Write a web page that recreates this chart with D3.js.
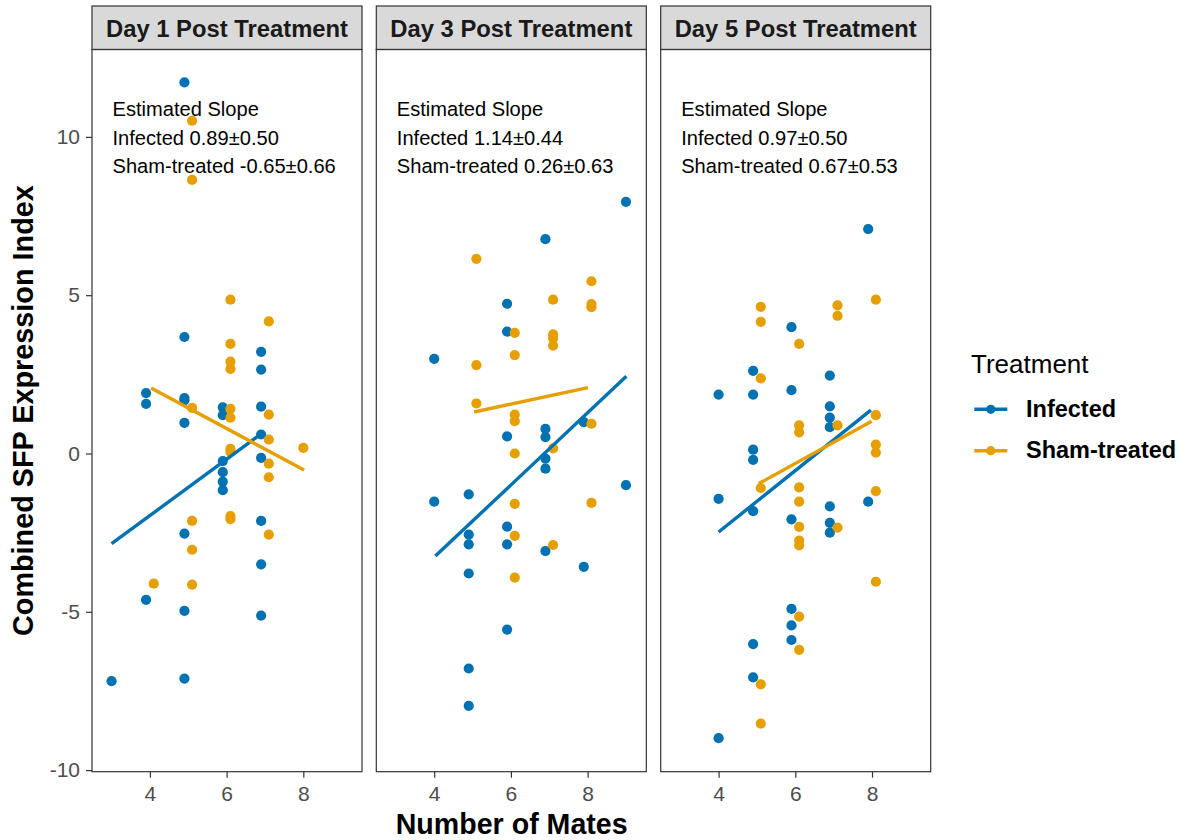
<!DOCTYPE html>
<html>
<head>
<meta charset="utf-8">
<script src="https://cdn.jsdelivr.net/npm/d3@7"></script>
<style>
  html, body { margin: 0; padding: 0; background: #ffffff; }
  svg { display: block; font-family: "Liberation Sans", Arial, sans-serif; }
</style>
</head>
<body>
<svg id="chart" width="1181" height="840"></svg>
<script>
// Facet titles
const panelTitles = ["Day 1 Post Treatment", "Day 3 Post Treatment", "Day 5 Post Treatment"];
const treatments = ["Infected", "Sham-treated"];
const treatmentColors = ["#0072B2", "#E69F00"];

// Observations: [number of mates (dodged), combined SFP expression index]
const day1Infected = [[3.0,-7.19],[3.9,1.91],[3.9,1.57],[3.9,-4.62],[4.9,11.72],[4.9,3.68],[4.9,1.75],[4.9,1.68],[4.9,0.97],[4.9,-2.53],[4.9,-4.97],[4.9,-7.11],[5.9,1.46],[5.9,1.21],[5.9,-0.24],[5.9,-0.59],[5.9,-0.89],[5.9,-1.16],[6.9,3.21],[6.9,2.65],[6.9,1.48],[6.9,0.60],[6.9,-0.14],[6.9,-2.13],[6.9,-3.50],[6.9,-5.12]];
const day1Sham = [[4.1,-4.11],[5.1,10.51],[5.1,8.64],[5.1,1.44],[5.1,-2.13],[5.1,-3.04],[5.1,-4.14],[6.1,4.86],[6.1,3.46],[6.1,2.90],[6.1,2.67],[6.1,1.41],[6.1,1.13],[6.1,0.15],[6.1,0.05],[6.1,-1.98],[6.1,-2.07],[7.1,4.17],[7.1,1.23],[7.1,0.44],[7.1,-0.32],[7.1,-0.75],[7.1,-2.56],[8.0,0.18]];
const day3Infected = [[4.0,2.99],[4.0,-1.52],[4.9,-1.29],[4.9,-2.56],[4.9,-2.87],[4.9,-3.79],[4.9,-6.79],[4.9,-7.97],[5.9,4.73],[5.9,3.85],[5.9,0.54],[5.9,-2.31],[5.9,-2.87],[5.9,-5.56],[6.9,6.77],[6.9,0.78],[6.9,0.52],[6.9,-0.16],[6.9,-0.48],[6.9,-3.08],[7.9,0.99],[7.9,-3.58],[9.0,7.95],[9.0,-1.0]];
const day3Sham = [[5.1,6.15],[5.1,2.79],[5.1,1.58],[6.1,3.81],[6.1,3.11],[6.1,1.23],[6.1,1.02],[6.1,0.0],[6.1,-1.59],[6.1,-2.60],[6.1,-3.92],[7.1,4.86],[7.1,3.76],[7.1,3.64],[7.1,3.41],[7.1,0.16],[7.1,-2.89],[8.1,5.44],[8.1,4.72],[8.1,4.62],[8.1,0.94],[8.1,-1.56]];
const day5Infected = [[4.0,1.86],[4.0,-1.43],[4.0,-8.99],[4.9,2.61],[4.9,1.86],[4.9,0.12],[4.9,-0.20],[4.9,-1.82],[4.9,-6.02],[4.9,-7.07],[5.9,3.99],[5.9,2.0],[5.9,-2.08],[5.9,-4.91],[5.9,-5.43],[5.9,-5.89],[6.9,2.46],[6.9,1.49],[6.9,1.13],[6.9,0.83],[6.9,-1.67],[6.9,-2.19],[6.9,-2.50],[7.9,7.09],[7.9,-1.52]];
const day5Sham = [[5.1,4.63],[5.1,4.16],[5.1,2.37],[5.1,-1.09],[5.1,-7.29],[5.1,-8.53],[6.1,3.46],[6.1,0.89],[6.1,0.67],[6.1,-1.07],[6.1,-1.52],[6.1,-2.32],[6.1,-2.75],[6.1,-2.90],[6.1,-5.15],[6.1,-6.20],[7.1,4.68],[7.1,4.35],[7.1,0.89],[7.1,-2.34],[8.1,4.86],[8.1,1.21],[8.1,0.28],[8.1,0.03],[8.1,-1.19],[8.1,-4.05]];

// Estimated slopes and standard errors per day
const infectedSlope = [0.89, 1.14, 0.97];
const infectedSE = [0.50, 0.44, 0.50];
const shamSlope = [-0.65, 0.26, 0.67];
const shamSE = [0.66, 0.63, 0.53];

// Fitted line: starting point [x, y] and ending x, per day
const infectedFitStart = [[3.0, -2.85], [4.03, -3.24], [4.0, -2.48]];
const infectedFitEndX = [6.93, 9.01, 7.97];
const shamFitStart = [[4.03, 2.07], [5.04, 1.31], [5.05, -0.95]];
const shamFitEndX = [8.02, 8.01, 7.99];

// Axis ticks
const xTicks = [4, 6, 8];
const yTicks = [-10, -5, 0, 5, 10];

const points = [[day1Infected, day1Sham], [day3Infected, day3Sham], [day5Infected, day5Sham]];
const slopes = [infectedSlope, shamSlope];
const fitStarts = [infectedFitStart, shamFitStart];
const fitEnds = [infectedFitEndX, shamFitEndX];

// Layout
const panelLeft = [92, 376.3, 660.7];
const panelW = 270;
const stripTop = 6;
const panelTop = 49.5;
const panelBottom = 771.7;

const svg = d3.select("#chart");

const x = d3.scaleLinear().domain([2.49, 9.53]).range([0, panelW]);
const y = d3.scaleLinear().domain([-10.05, 12.76]).range([panelBottom, panelTop]);

// plain hyphen-minus for negative numbers
const locale = d3.formatLocale({ decimal: ".", thousands: ",", grouping: [3], currency: ["", ""], minus: "-" });
const fmt = locale.format(".2f");
const fmtInt = locale.format("d");

const FONT = "Liberation Sans, Arial, sans-serif";

panelTitles.forEach((title, i) => {
  const g = svg.append("g").attr("transform", `translate(${panelLeft[i]},0)`);

  // panel background
  g.append("rect")
    .attr("x", 0).attr("y", panelTop)
    .attr("width", panelW).attr("height", panelBottom - panelTop)
    .attr("fill", "#ffffff");

  // strip
  g.append("rect")
    .attr("x", 0).attr("y", stripTop)
    .attr("width", panelW).attr("height", panelTop - stripTop)
    .attr("fill", "#D9D9D9").attr("stroke", "#333333").attr("stroke-width", 1.2);
  g.append("text")
    .attr("x", panelW / 2).attr("y", 36.9)
    .attr("text-anchor", "middle")
    .attr("font-size", "23.8px").attr("font-weight", "bold")
    .attr("fill", "#1A1A1A")
    .text(title);

  // points
  treatments.forEach((t, k) => {
    g.append("g").selectAll("circle")
      .data(points[i][k])
      .join("circle")
      .attr("cx", d => x(d[0]))
      .attr("cy", d => y(d[1]))
      .attr("r", 5.1)
      .attr("fill", treatmentColors[k]);
  });

  // fitted lines
  treatments.forEach((t, k) => {
    const [x0, y0] = fitStarts[k][i];
    const x1 = fitEnds[k][i];
    const y1 = y0 + slopes[k][i] * (x1 - x0);
    g.append("line")
      .attr("x1", x(x0)).attr("y1", y(y0))
      .attr("x2", x(x1)).attr("y2", y(y1))
      .attr("stroke", treatmentColors[k])
      .attr("stroke-width", 3.4);
  });

  // slope annotation
  const lines = [
    "Estimated Slope",
    `Infected ${fmt(infectedSlope[i])}\u00B1${fmt(infectedSE[i])}`,
    `Sham-treated ${fmt(shamSlope[i])}\u00B1${fmt(shamSE[i])}`
  ];
  const baselines = [116, 144.7, 173.3];
  lines.forEach((s, j) => {
    g.append("text")
      .attr("x", 20.5).attr("y", baselines[j])
      .attr("font-size", "20.1px").attr("fill", "#000000")
      .text(s);
  });

  // panel border
  g.append("rect")
    .attr("x", 0).attr("y", panelTop)
    .attr("width", panelW).attr("height", panelBottom - panelTop)
    .attr("fill", "none").attr("stroke", "#333333").attr("stroke-width", 1.2);

  // x axis
  const xa = g.append("g")
    .attr("transform", `translate(0,${panelBottom})`)
    .call(d3.axisBottom(x).tickValues(xTicks).tickSize(6).tickPadding(8).tickFormat(fmtInt));
  xa.select(".domain").remove();
  xa.selectAll(".tick line").attr("stroke", "#333333").attr("stroke-width", 1.2);
  xa.selectAll(".tick text").attr("fill", "#4D4D4D").attr("font-size", "21px")
    .attr("font-family", FONT);

  // y axis on first panel
  if (i === 0) {
    const ya = g.append("g")
      .call(d3.axisLeft(y).tickValues(yTicks).tickSize(6).tickPadding(6).tickFormat(fmtInt));
    ya.select(".domain").remove();
    ya.selectAll(".tick line").attr("stroke", "#333333").attr("stroke-width", 1.2);
    ya.selectAll(".tick text").attr("fill", "#4D4D4D").attr("font-size", "21px")
      .attr("font-family", FONT);
  }
});

// axis titles
svg.append("text")
  .attr("x", 511.7).attr("y", 834)
  .attr("text-anchor", "middle")
  .attr("font-size", "28.6px").attr("font-weight", "bold").attr("fill", "#000000")
  .text("Number of Mates");

svg.append("text")
  .attr("transform", `translate(33,${(panelTop + panelBottom) / 2}) rotate(-90)`)
  .attr("text-anchor", "middle")
  .attr("font-size", "28.8px").attr("font-weight", "bold").attr("fill", "#000000")
  .text("Combined SFP Expression Index");

// legend
const legend = svg.append("g");
legend.append("text")
  .attr("x", 971).attr("y", 373)
  .attr("font-size", "26px").attr("fill", "#000000")
  .text("Treatment");
const keyY = [409.3, 450.7];
const labelY = [417.3, 458.3];
treatments.forEach((t, k) => {
  legend.append("line")
    .attr("x1", 974.3).attr("x2", 1007.3)
    .attr("y1", keyY[k]).attr("y2", keyY[k])
    .attr("stroke", treatmentColors[k]).attr("stroke-width", 3.4);
  legend.append("circle")
    .attr("cx", 990.8).attr("cy", keyY[k]).attr("r", 4.6)
    .attr("fill", treatmentColors[k]);
  legend.append("text")
    .attr("x", 1026).attr("y", labelY[k])
    .attr("font-size", "23.5px").attr("font-weight", "bold").attr("fill", "#000000")
    .text(t);
});
</script>
</body>
</html>
